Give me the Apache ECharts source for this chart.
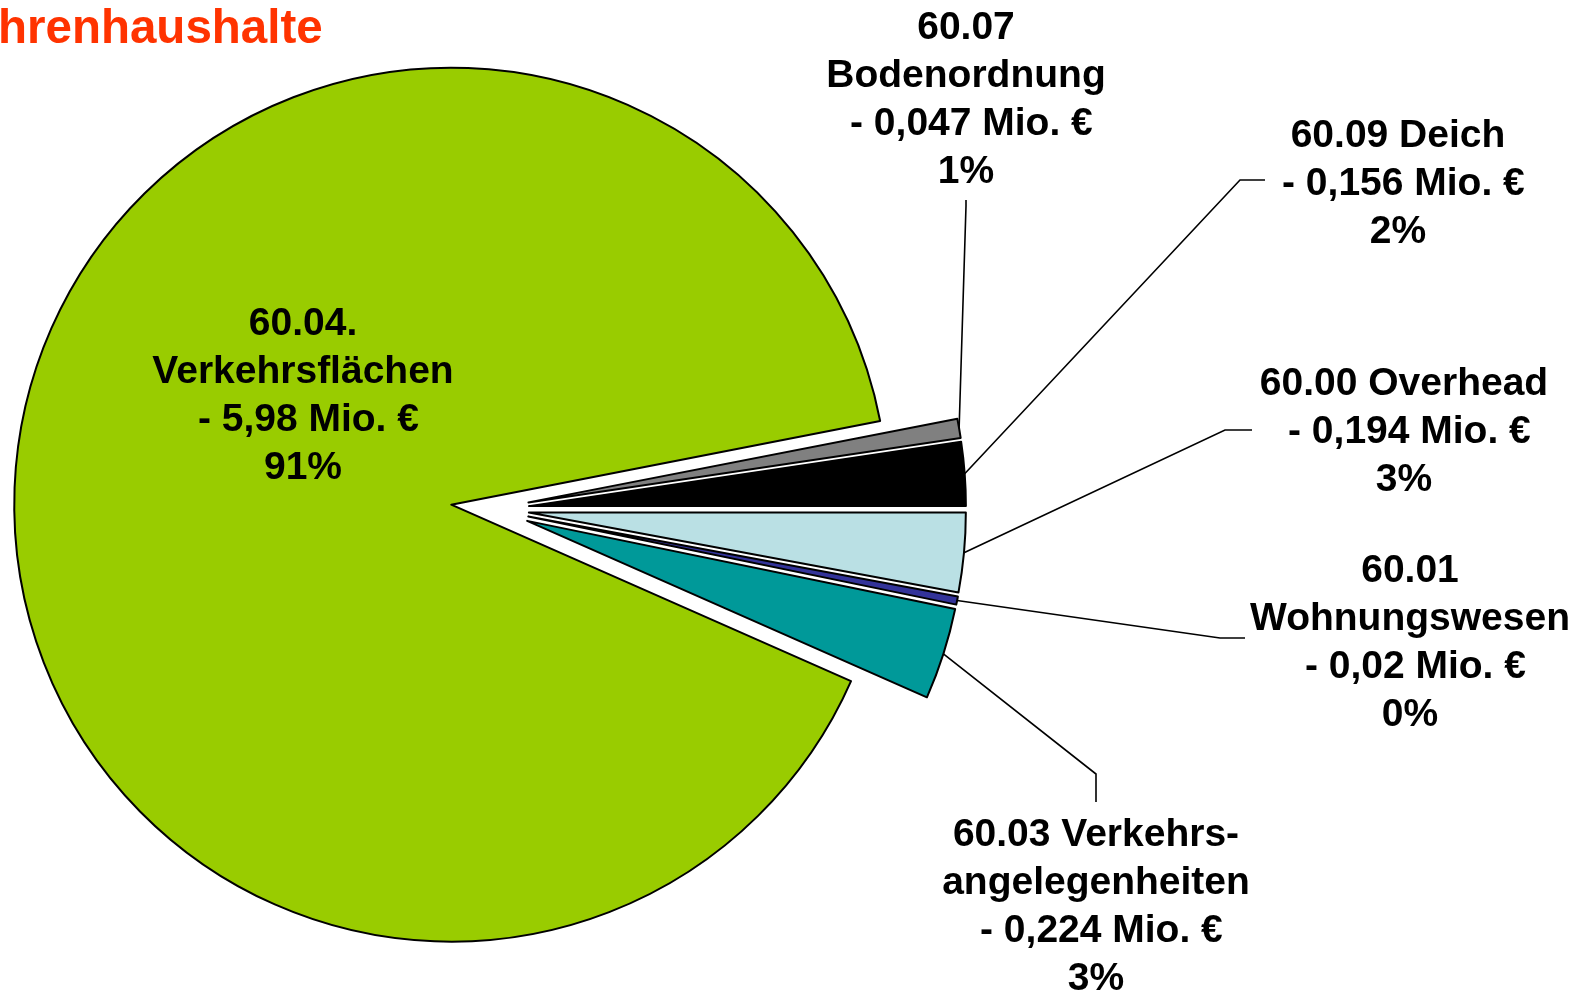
<!DOCTYPE html>
<html>
<head>
<meta charset="utf-8">
<script src="https://cdn.jsdelivr.net/npm/echarts@6/dist/echarts.min.js"></script>
<style>
    html, body { margin: 0; padding: 0; background: #fff; }
    #chart { width: 1584px; height: 992px; }
</style>
</head>
<body>
<div id="chart"></div>
<script>
// Daten (Mio. €), Reihenfolge wie in der Tabelle
var names = ['60.00 Overhead', '60.01\nWohnungswesen', '60.03 Verkehrs-\nangelegenheiten',
             '60.04.\nVerkehrsflächen', '60.07\nBodenordnung', '60.09 Deich'];
var values = [0.194, 0.02, 0.224, 5.98, 0.047, 0.156];
var percentLabels = ['3%', '0%', '3%', '91%', '1%', '2%'];
var colors = ['#BAE0E4', '#333399', '#009999', '#99CC00', '#808080', '#000000'];

// Beschriftungen wie im Excel-Blatt platziert
var labelPos = [
    { x: 1404, y: 432, elbow: [1225, 430], end: [1252, 430] },
    { x: 1410, y: 643, elbow: [1220, 638], end: [1245, 638] },
    { x: 1096, y: 907, elbow: [1096, 774], end: [1096, 802] },
    { x: 303,  y: 396 },
    { x: 966,  y: 100, elbow: [966, 206], end: [966, 200] },
    { x: 1398, y: 184, elbow: [1240, 180], end: [1265, 180] }
];

var pieCenter = [490, 509];
var pieRadius = 437;
var explode = 39;
var fontFam = 'Liberation Sans, Arial, sans-serif';

function fmt(v) {
    return String(v).replace('.', ',');
}

var chart = echarts.init(document.getElementById('chart'));

// sichtbare Segmente, alle herausgezogen
var sliceData = names.map(function (n, i) {
    return { name: n, value: values[i], selected: true, itemStyle: { color: colors[i] } };
});

// unsichtbarer Ring fuer die Beschriftungen (Radius = Aussenkante der herausgezogenen Segmente)
var labelData = names.map(function (n, i) {
    var item = { name: n, value: values[i] };
    if (!labelPos[i].elbow) {
        item.labelLine = { show: false };
    }
    return item;
});

chart.setOption({
    animation: false,
    title: {
        text: 'hrenhaushalte',
        left: -2,
        top: 6,
        padding: 0,
        textStyle: { color: '#FF3300', fontSize: 47.5, fontWeight: 'bold', fontFamily: fontFam }
    },
    series: [{
        type: 'pie',
        center: pieCenter,
        radius: pieRadius,
        startAngle: 0,
        clockwise: true,
        silent: true,
        selectedMode: 'multiple',
        selectedOffset: explode,
        itemStyle: { borderColor: '#000', borderWidth: 2 },
        select: { itemStyle: { borderColor: '#000', borderWidth: 2 } },
        label: { show: false },
        labelLine: { show: false },
        data: sliceData
    }, {
        type: 'pie',
        z: 5,
        center: pieCenter,
        radius: pieRadius + explode,
        startAngle: 0,
        clockwise: true,
        silent: true,
        avoidLabelOverlap: false,
        itemStyle: { color: 'transparent', borderWidth: 0 },
        label: {
            show: true,
            position: 'outside',
            color: '#000',
            fontFamily: fontFam,
            fontWeight: 'bold',
            fontSize: 39,
            lineHeight: 48,
            align: 'center',
            formatter: function (p) {
                return p.name + '\n - ' + fmt(p.value) + ' Mio. €\n' + percentLabels[p.dataIndex];
            }
        },
        labelLine: { show: true, length: 10, length2: 10, lineStyle: { color: '#000', width: 1.6 } },
        labelLayout: function (params) {
            var p = labelPos[params.dataIndex];
            var res = { x: p.x, y: p.y, align: 'center', verticalAlign: 'middle' };
            if (p.elbow && params.labelLinePoints) {
                res.labelLinePoints = [params.labelLinePoints[0], p.elbow, p.end];
            }
            return res;
        },
        data: labelData
    }]
});
</script>
</body>
</html>
